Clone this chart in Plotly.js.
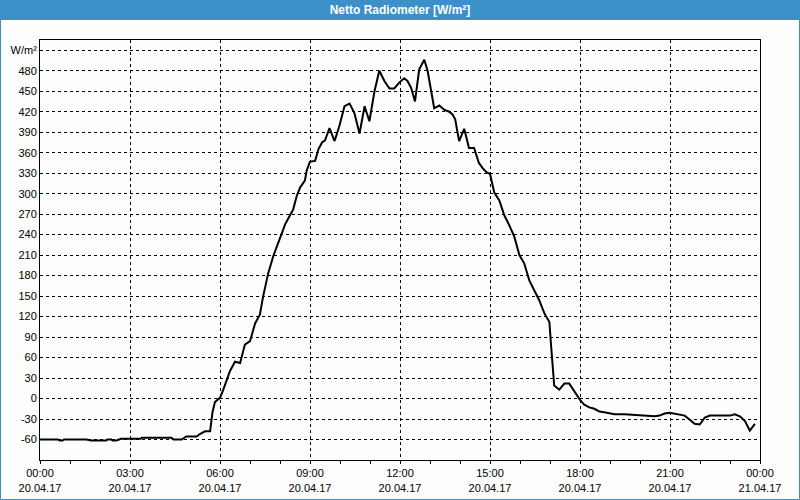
<!DOCTYPE html>
<html>
<head>
<meta charset="utf-8">
<script src="https://cdn.plot.ly/plotly-3.0.1.min.js"></script>
<style>
  html, body { margin: 0; padding: 0; background: #fcfdfc; }
  #chart { width: 800px; height: 500px; }
</style>
</head>
<body>
<div id="chart"></div>
<script>
// Time of day in hours on 20.04.17
const hours = [
  0.00, 0.60, 0.65, 0.75, 0.80, 1.55, 1.70, 2.20, 2.25, 2.38, 2.42, 2.55, 2.70, 3.35, 3.40, 4.38, 4.45, 4.72, 4.88, 5.22,
  5.33, 5.50, 5.67, 5.75, 5.83, 6.00, 6.11, 6.22, 6.33, 6.50, 6.67, 6.83, 7.00, 7.17, 7.33, 7.44, 7.61, 7.78, 8.00, 8.17,
  8.33, 8.44, 8.56, 8.67, 8.83, 8.89, 9.00, 9.17, 9.28, 9.40, 9.50, 9.65, 9.82, 9.99, 10.15, 10.32, 10.48, 10.65, 10.82, 10.98,
  11.15, 11.31, 11.48, 11.65, 11.81, 11.98, 12.14, 12.25, 12.37, 12.50, 12.64, 12.81, 12.92, 13.03, 13.14, 13.31, 13.47, 13.64, 13.75, 13.84,
  13.97, 14.14, 14.30, 14.47, 14.63, 14.76, 14.89, 15.00, 15.14, 15.31, 15.48, 15.64, 15.81, 15.98, 16.14, 16.31, 16.48, 16.64, 16.81, 16.98,
  17.03, 17.09, 17.14, 17.31, 17.48, 17.64, 17.81, 18.00, 18.14, 18.31, 18.48, 18.65, 18.81, 18.98, 19.15, 19.48, 19.82, 20.15, 20.49, 20.65,
  20.82, 20.99, 21.16, 21.32, 21.49, 21.66, 21.82, 21.99, 22.16, 22.33, 22.66, 23.00, 23.16, 23.33, 23.50, 23.66, 23.83
];
// Net radiation in W/m²
const radiation = [
  -60, -60, -61.5, -61.5, -60, -60, -61.5, -61.5, -60, -60, -61.5, -61.5, -59, -59, -57.5, -57.5, -60, -60, -55.5, -55.5,
  -52, -48, -48, -20, -5, 1, 13, 28, 40, 54, 52, 79, 84, 110, 123, 150, 184, 209, 236, 255,
  268, 277, 297, 309, 319, 334, 347, 348, 365, 375, 378, 396, 377, 401, 428, 432, 418, 388, 428, 406,
  450, 480, 465, 454, 454, 463, 469, 465, 455, 435, 482, 496, 480, 455, 425, 429, 423, 420, 416, 409,
  377, 395, 367, 367, 345, 337, 331, 329, 302, 290, 268, 254, 237, 210, 198, 173, 159, 144, 125, 112,
  81, 52, 19, 13, 22, 22, 10, -2, -9, -13, -15, -19, -20, -22, -23, -23, -24, -25, -26, -25,
  -22, -21, -22, -24, -25, -31, -37, -38, -28, -25, -25, -25, -23, -26, -33, -47, -37
];

const xTickVals = [0, 3, 6, 9, 12, 15, 18, 21, 24];
const xTickText = [
  "00:00<br>20.04.17", "03:00<br>20.04.17", "06:00<br>20.04.17", "09:00<br>20.04.17",
  "12:00<br>20.04.17", "15:00<br>20.04.17", "18:00<br>20.04.17", "21:00<br>20.04.17", "00:00<br>21.04.17"
];
const yTickVals = [-60, -30, 0, 30, 60, 90, 120, 150, 180, 210, 240, 270, 300, 330, 360, 390, 420, 450, 480, 510];
const yTickText = ["-60", "-30", "0", "30", "60", "90", "120", "150", "180", "210", "240", "270", "300", "330", "360", "390", "420", "450", "480", "W/m²"];

const titleText = "Netto Radiometer [W/m²]";

const W = 800, H = 500, L = 40, R = 40, T = 40, B = 40;
const pw = W - L - R, ph = H - T - B;
const px = v => v / pw, py = v => v / ph;

const trace = {
  x: hours, y: radiation, type: 'scatter', mode: 'lines',
  line: { color: '#000000', width: 2 }, hoverinfo: 'skip'
};

const gridDash = '3px,3px';
const layout = {
  width: W, height: H,
  margin: { l: L, r: R, t: T, b: B, pad: 0 },
  paper_bgcolor: '#fcfdfc',
  plot_bgcolor: '#fcfdfc',
  showlegend: false,
  font: { family: 'Liberation Sans, Arial, sans-serif', size: 11, color: '#000000' },
  title: {
    text: '<b>' + titleText + '</b>',
    font: { family: 'Liberation Sans, Arial, sans-serif', size: 12, color: '#ffffff' },
    x: 0.5, xref: 'container', xanchor: 'center',
    y: 1 - 10 / H, yref: 'container', yanchor: 'middle'
  },
  xaxis: {
    range: [0, 24], tickmode: 'array', tickvals: xTickVals, ticktext: xTickText,
    ticks: 'outside', ticklen: 3, tickcolor: '#000', tickwidth: 1,
    minor: { tickmode: 'linear', tick0: 0, dtick: 1, ticks: 'outside', ticklen: 3, tickcolor: '#000', showgrid: false },
    showgrid: true, gridcolor: '#000000', gridwidth: 1, griddash: gridDash,
    showline: true, linecolor: '#000', linewidth: 1, mirror: true,
    zeroline: false, fixedrange: true
  },
  yaxis: {
    range: [-90, 525], tickmode: 'array', tickvals: yTickVals, ticktext: yTickText,
    ticks: '', showgrid: true, gridcolor: '#000000', gridwidth: 1, griddash: gridDash,
    showline: true, linecolor: '#000', linewidth: 1, mirror: true,
    zeroline: false, fixedrange: true
  },
  shapes: [
    { type: 'rect', xref: 'paper', yref: 'paper', layer: 'below',
      x0: px(-L), x1: 1 + px(R), y0: 1 + py(T - 20), y1: 1 + py(T),
      fillcolor: '#3c90c8', line: { width: 0 } },
    { type: 'rect', xref: 'paper', yref: 'paper', layer: 'above',
      x0: px(-L + 0.5), x1: 1 + px(R - 0.5), y0: -py(B - 0.5), y1: 1 + py(T - 0.5),
      fillcolor: 'rgba(0,0,0,0)', line: { color: '#3c90c8', width: 1 } }
  ]
};

Plotly.newPlot('chart', [trace], layout, { staticPlot: true, displayModeBar: false });
</script>
</body>
</html>
